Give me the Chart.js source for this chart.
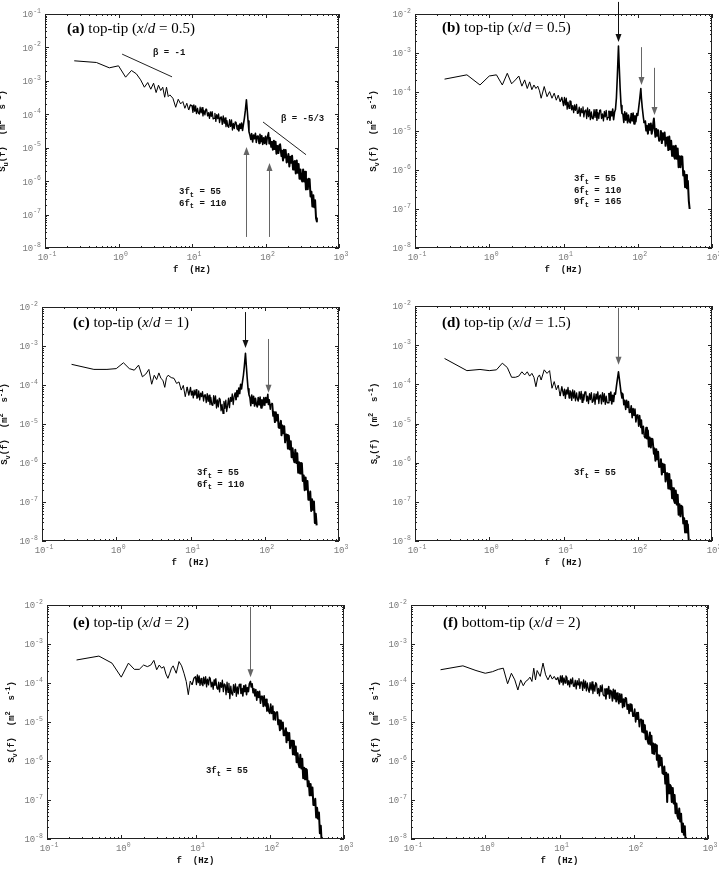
<!DOCTYPE html>
<html>
<head>
<meta charset="utf-8">
<script src="https://cdn.jsdelivr.net/npm/chart.js@4.4.1/dist/chart.umd.min.js"></script>
<style>
  html, body { margin: 0; padding: 0; background: #fff; }
  #wrap { position: relative; width: 719px; height: 883px; overflow: hidden; }
  #wrap canvas { position: absolute; left: 0; top: 0; }
</style>
</head>
<body>
<div id="wrap"></div>
<script>
// ==== Data ====
// frequency bins (Hz), shared by all six spectra
const freq = [
  0.25, 0.5, 0.75, 1, 1.25, 1.5, 1.75, 2, 2.25, 2.5,
  2.75, 3, 3.25, 3.5, 3.75, 4, 4.25, 4.5, 4.75, 5,
  5.5, 6, 6.5, 7, 7.5, 8, 8.5, 9, 9.5,
  10, 10.3, 10.6, 10.9, 11.2, 11.5, 11.9, 12.2,
  12.6, 12.9, 13.3, 13.7, 14.1, 14.5, 15.0, 15.4,
  15.8, 16.3, 16.8, 17.3, 17.8, 18.3, 18.8, 19.4,
  20.0, 20.5, 21.1, 21.7, 22.4, 23.0, 23.7, 24.4,
  25.1, 25.8, 26.6, 27.4, 28.2, 29.0, 29.9, 30.7,
  31.6, 32.5, 33.5, 34.5, 35.5, 36.5, 37.6, 38.7,
  39.8, 41.0, 42.2, 43.4, 44.7, 46.0, 47.3, 48.7,
  50.1, 51.6, 53.1, 55, 56.2, 57.9, 59.6, 61.3,
  63.1, 64.9, 66.8, 68.8, 70.8, 72.9, 75.0, 77.1,
  79.4, 81.7, 84.1, 86.6, 89.1, 91.7, 94.4, 97.2,
  100, 103, 106, 110, 112, 115, 119, 122,
  126, 130, 133, 137, 141, 145, 150, 154,
  158, 165, 168, 173, 178, 183, 188, 194,
  200, 205, 211, 217, 224, 230, 237, 244,
  251, 258, 266, 274, 282, 290, 299, 307,
  316, 325, 335, 345, 355, 365, 376, 387,
  398, 410, 422, 434, 447, 460, 473, 487,
  500
];

// log10 of S(f) (m^2 s^-1)
const specA = [
  -2.40, -2.45, -2.61, -2.55, -2.89, -2.69, -2.79, -2.97, -3.19, -3.05,
  -3.25, -3.07, -3.35, -3.13, -3.29, -3.19, -3.49, -3.19, -3.47, -3.42,
  -3.52, -3.79, -3.55, -3.69, -3.62, -3.82, -3.67, -3.87, -3.72,
  -3.75, -3.94, -3.72, -3.91, -3.75, -3.98, -3.82, -3.96,
  -3.99, -3.79, -3.96, -3.80, -4.05, -3.88, -4.02, -3.85,
  -3.85, -4.05, -3.95, -4.12, -3.93, -4.06, -3.92, -4.14,
  -4.12, -3.97, -4.21, -4.01, -4.13, -3.99, -4.25, -4.09,
  -4.08, -4.30, -4.05, -4.27, -4.11, -4.37, -4.19, -4.36,
  -4.39, -4.16, -4.36, -4.17, -4.47, -4.27, -4.43, -4.23,
  -4.24, -4.45, -4.33, -4.50, -4.29, -4.42, -4.26, -4.48,
  -4.30, -4.12, -3.90, -3.57, -3.82, -4.20, -4.52, -4.62,
  -4.75, -4.58, -4.83, -4.62, -4.73, -4.57, -4.84, -4.66,
  -4.65, -4.87, -4.60, -4.82, -4.64, -4.90, -4.70, -4.87,
  -4.66, -4.90, -4.68, -4.55, -4.88, -4.70, -4.98, -4.80,
  -5.06, -4.79, -5.04, -4.82, -5.18, -4.95, -5.16, -4.93,
  -4.90, -5.25, -5.09, -5.38, -5.06, -5.29, -5.07, -5.44,
  -5.40, -5.19, -5.56, -5.27, -5.45, -5.24, -5.65, -5.42,
  -5.40, -5.77, -5.38, -5.75, -5.49, -5.93, -5.65, -5.93,
  -6.01, -5.65, -6.01, -5.72, -6.25, -5.94, -6.24, -5.93,
  -5.94, -6.46, -6.32, -6.76, -6.42, -6.78, -6.57, -7.11,
  -7.21
];
const specB = [
  -3.67, -3.56, -3.82, -3.59, -3.56, -3.82, -3.52, -3.79, -3.69, -3.59,
  -3.85, -3.69, -3.91, -3.74, -3.94, -3.82, -3.91, -3.85, -3.97, -4.16,
  -3.86, -4.12, -3.99, -4.16, -4.03, -4.21, -4.08, -4.25, -4.14,
  -4.35, -4.14, -4.33, -4.16, -4.44, -4.26, -4.42, -4.23,
  -4.24, -4.46, -4.35, -4.53, -4.33, -4.47, -4.32, -4.55,
  -4.54, -4.39, -4.62, -4.42, -4.53, -4.38, -4.64, -4.48,
  -4.46, -4.68, -4.41, -4.63, -4.45, -4.71, -4.51, -4.68,
  -4.69, -4.45, -4.65, -4.45, -4.73, -4.53, -4.68, -4.47,
  -4.46, -4.68, -4.56, -4.74, -4.50, -4.64, -4.47, -4.71,
  -4.65, -4.48, -4.72, -4.50, -4.61, -4.44, -4.71, -4.52,
  -4.45, -4.15, -3.60, -2.82, -3.30, -3.90, -4.35, -4.55,
  -4.57, -4.78, -4.51, -4.72, -4.54, -4.79, -4.59, -4.75,
  -4.79, -4.55, -4.74, -4.54, -4.82, -4.61, -4.76, -4.55,
  -4.60, -4.40, -4.20, -3.91, -4.15, -4.40, -4.65, -4.80,
  -4.75, -4.99, -4.87, -5.07, -4.82, -4.97, -4.81, -5.07,
  -4.95, -4.68, -4.90, -5.15, -4.95, -5.12, -4.98, -5.25,
  -5.19, -5.00, -5.31, -5.06, -5.22, -5.04, -5.38, -5.18,
  -5.16, -5.49, -5.14, -5.47, -5.25, -5.64, -5.39, -5.64,
  -5.71, -5.38, -5.71, -5.45, -5.93, -5.65, -5.93, -5.65,
  -5.66, -6.14, -6.03, -6.44, -6.13, -6.47, -6.28, -6.79,
  -7.00
];
const specC = [
  -3.47, -3.60, -3.60, -3.58, -3.43, -3.58, -3.62, -3.49, -3.79, -3.72,
  -3.60, -3.98, -3.75, -3.86, -3.69, -3.83, -3.88, -4.06, -3.81, -3.75,
  -3.81, -3.83, -3.96, -3.92, -4.13, -4.01, -4.30, -4.05, -4.26,
  -4.06, -4.26, -4.16, -4.33, -4.13, -4.26, -4.12, -4.34,
  -4.31, -4.15, -4.38, -4.21, -4.30, -4.17, -4.41, -4.26,
  -4.25, -4.45, -4.22, -4.42, -4.26, -4.50, -4.32, -4.51,
  -4.52, -4.27, -4.48, -4.28, -4.59, -4.38, -4.56, -4.34,
  -4.37, -4.66, -4.50, -4.73, -4.42, -4.60, -4.39, -4.68,
  -4.53, -4.34, -4.58, -4.32, -4.42, -4.23, -4.50, -4.29,
  -4.20, -4.38, -4.14, -4.30, -4.08, -4.22, -3.98, -4.10,
  -3.92, -3.75, -3.52, -3.19, -3.45, -3.80, -4.10, -4.25,
  -4.32, -4.53, -4.26, -4.47, -4.29, -4.54, -4.34, -4.50,
  -4.56, -4.32, -4.51, -4.31, -4.59, -4.38, -4.53, -4.32,
  -4.52, -4.32, -4.45, -4.24, -4.50, -4.38, -4.62, -4.48,
  -4.48, -4.79, -4.69, -4.95, -4.70, -4.91, -4.76, -5.09,
  -5.10, -4.92, -5.29, -5.04, -5.24, -5.06, -5.47, -5.27,
  -5.28, -5.63, -5.30, -5.65, -5.44, -5.85, -5.62, -5.89,
  -5.98, -5.66, -6.00, -5.75, -6.25, -5.98, -6.27, -6.00,
  -6.01, -6.46, -6.32, -6.70, -6.37, -6.68, -6.46, -6.94,
  -6.94, -6.73, -7.23, -6.93, -7.20, -6.99, -7.54, -7.30,
  -7.60
];
const specD = [
  -3.34, -3.65, -3.62, -3.65, -3.63, -3.46, -3.57, -3.82, -3.82, -3.79,
  -3.68, -3.76, -3.68, -3.79, -3.72, -3.82, -4.06, -3.82, -3.76, -3.89,
  -3.63, -3.72, -3.65, -4.10, -3.93, -4.14, -4.02, -4.30, -4.06,
  -4.29, -4.12, -4.36, -4.14, -4.25, -4.08, -4.35, -4.16,
  -4.20, -4.41, -4.14, -4.35, -4.17, -4.42, -4.22, -4.38,
  -4.43, -4.19, -4.38, -4.18, -4.46, -4.25, -4.40, -4.19,
  -4.19, -4.43, -4.30, -4.49, -4.24, -4.39, -4.21, -4.46,
  -4.43, -4.24, -4.51, -4.25, -4.38, -4.19, -4.49, -4.29,
  -4.27, -4.50, -4.21, -4.44, -4.24, -4.51, -4.30, -4.47,
  -4.47, -4.22, -4.41, -4.20, -4.50, -4.28, -4.44, -4.22,
  -4.25, -4.05, -3.88, -3.68, -3.82, -4.02, -4.22, -4.35,
  -4.25, -4.52, -4.41, -4.64, -4.41, -4.59, -4.44, -4.72,
  -4.71, -4.55, -4.85, -4.62, -4.79, -4.63, -4.96, -4.79,
  -4.78, -5.07, -4.80, -5.10, -4.91, -5.26, -5.07, -5.30,
  -5.36, -5.11, -5.38, -5.18, -5.59, -5.36, -5.61, -5.39,
  -5.40, -5.77, -5.64, -5.95, -5.66, -5.91, -5.72, -6.11,
  -6.10, -5.91, -6.30, -6.03, -6.24, -6.05, -6.48, -6.27,
  -6.27, -6.66, -6.29, -6.68, -6.45, -6.91, -6.65, -6.95,
  -7.03, -6.71, -7.07, -6.82, -7.33, -7.06, -7.37, -7.10,
  -7.13, -7.55, -7.42, -7.78, -7.49, -7.78, -7.58, -8.03,
  -8.10
];
const specE = [
  -3.41, -3.31, -3.49, -3.85, -3.49, -3.65, -3.65, -3.54, -3.58, -3.54,
  -3.42, -3.66, -3.54, -3.62, -3.58, -3.77, -3.88, -3.75, -3.62, -3.56,
  -3.75, -3.45, -3.56, -3.75, -3.96, -4.30, -3.95, -4.05, -3.88,
  -3.84, -4.04, -3.79, -3.99, -3.82, -4.06, -3.88, -4.03,
  -4.07, -3.85, -4.02, -3.84, -4.10, -3.90, -4.05, -3.85,
  -3.88, -4.10, -3.98, -4.16, -3.92, -4.06, -3.89, -4.13,
  -4.16, -3.98, -4.23, -3.99, -4.11, -3.93, -4.22, -4.02,
  -4.05, -4.30, -3.98, -4.24, -4.01, -4.40, -4.08, -4.27,
  -4.31, -4.04, -4.24, -4.02, -4.34, -4.10, -4.28, -4.04,
  -4.03, -4.27, -4.14, -4.33, -4.07, -4.22, -4.05, -4.30,
  -4.12, -4.22, -4.02, -3.96, -4.10, -4.02, -4.25, -4.15,
  -4.33, -4.17, -4.44, -4.22, -4.37, -4.21, -4.52, -4.34,
  -4.34, -4.60, -4.33, -4.59, -4.42, -4.72, -4.53, -4.73,
  -4.78, -4.54, -4.78, -4.59, -4.94, -4.74, -4.95, -4.74,
  -4.75, -5.06, -4.95, -5.21, -4.96, -5.17, -5.01, -5.34,
  -5.34, -5.16, -5.52, -5.27, -5.46, -5.28, -5.67, -5.48,
  -5.48, -5.83, -5.49, -5.84, -5.63, -6.03, -5.80, -6.07,
  -6.16, -5.84, -6.19, -5.94, -6.44, -6.17, -6.47, -6.20,
  -6.23, -6.65, -6.52, -6.88, -6.59, -6.88, -6.68, -7.13,
  -7.13, -6.97, -7.45, -7.20, -7.48, -7.32, -7.85, -7.66,
  -8.10
];
const specF = [
  -3.66, -3.56, -3.68, -3.75, -3.71, -3.65, -3.62, -4.02, -3.75, -3.92,
  -4.18, -3.92, -4.07, -3.96, -3.92, -3.85, -3.96, -3.62, -3.92, -3.68,
  -3.83, -3.49, -3.79, -3.92, -3.79, -3.90, -3.83, -3.92, -3.86,
  -4.03, -3.82, -3.98, -3.81, -4.05, -3.87, -4.00, -3.82,
  -3.86, -4.05, -3.94, -4.10, -3.90, -4.02, -3.87, -4.08,
  -4.09, -3.93, -4.15, -3.94, -4.05, -3.89, -4.14, -3.97,
  -3.98, -4.19, -3.92, -4.13, -3.95, -4.20, -4.00, -4.16,
  -4.24, -3.99, -4.18, -3.97, -4.27, -4.05, -4.21, -3.99,
  -4.03, -4.27, -4.14, -4.33, -4.07, -4.22, -4.05, -4.30,
  -4.33, -4.14, -4.41, -4.15, -4.28, -4.09, -4.39, -4.19,
  -4.22, -4.46, -4.16, -4.40, -4.19, -4.48, -4.26, -4.43,
  -4.53, -4.28, -4.49, -4.29, -4.63, -4.41, -4.60, -4.38,
  -4.39, -4.67, -4.55, -4.78, -4.54, -4.72, -4.56, -4.85,
  -4.85, -4.67, -5.00, -4.76, -4.93, -4.76, -5.12, -4.93,
  -4.94, -5.25, -4.96, -5.27, -5.08, -5.44, -5.24, -5.48,
  -5.56, -5.27, -5.58, -5.35, -5.80, -5.55, -5.82, -5.57,
  -5.60, -5.97, -5.84, -6.15, -5.86, -6.11, -5.92, -6.31,
  -6.33, -6.14, -6.58, -6.30, -7.05, -6.34, -6.83, -6.61,
  -6.65, -7.05, -6.69, -7.09, -6.87, -7.34, -7.09, -7.40,
  -7.48, -7.22, -7.55, -7.35, -7.82, -7.60, -7.89, -7.67,
  -8.10
];

// harmonic labels (multiple of f_t, Hz)
const harmA = [['3', '55'], ['6', '110']];
const harmB = [['3', '55'], ['6', '110'], ['9', '165']];
const harmC = [['3', '55'], ['6', '110']];
const harmD = [['3', '55']];
const harmE = [['3', '55']];

// ==== Styles ====
const MONO = "'Liberation Mono', 'DejaVu Sans Mono', monospace";
const SERIF = "'Liberation Serif', 'DejaVu Serif', serif";
const INK = '#111';
const GRAY = '#666';
const TICK_GRAY = '#7a7a7a';

// heavier stroke where the spectrum becomes a dense noise band
function bandWidth(ctx) {
  const f = ctx.p0.parsed.x;
  if (f < 9) return 1;
  if (f < 40) return 1.3;
  if (f < 120) return 1.6;
  return 2;
}

// ==== Panels (layout in page pixels, annotations in data units) ====
const panels = [
  { spec: specA, sub: 'u', yMin: -8, yMax: -1, box: [45, 14, 339, 248], yTitleX: 3,
    tag: '(a)', where: 'top-tip', xd: '0.5', tagAt: [67, 33],
    harm: harmA, harmAt: [6.65, -6.32],
    arrows: [{ f: 55, from: -7.67, to: -4.98, c: GRAY }, { f: 110, from: -7.67, to: -5.46, c: GRAY }],
    slopes: [{ f1: 1.12, y1: -2.20, f2: 5.35, y2: -2.88, text: '\u03b2 = -1', tf: 2.94, ty: -2.17 },
             { f1: 92.5, y1: -4.23, f2: 356, y2: -5.21, text: '\u03b2 = -5/3', tf: 162.5, ty: -4.14 }] },
  { spec: specB, sub: 'v', yMin: -8, yMax: -2, box: [415, 14, 712, 248], yTitleX: 374,
    tag: '(b)', where: 'top-tip', xd: '0.5', tagAt: [442, 32],
    harm: harmB, harmAt: [13.8, -6.23],
    arrows: [{ f: 55, from: -1.69, to: -2.72, c: INK }, { f: 110, from: -2.85, to: -3.82, c: GRAY },
             { f: 165, from: -3.38, to: -4.59, c: GRAY }] },
  { spec: specC, sub: 'v', yMin: -8, yMax: -2, box: [42, 307, 339, 541], yTitleX: 5,
    tag: '(c)', where: 'top-tip', xd: '1', tagAt: [73, 327],
    harm: harmC, harmAt: [12.2, -6.26],
    arrows: [{ f: 55, from: -2.13, to: -3.05, c: INK }, { f: 110, from: -2.82, to: -4.20, c: GRAY }] },
  { spec: specD, sub: 'v', yMin: -8, yMax: -2, box: [415, 306, 712, 541], yTitleX: 375,
    tag: '(d)', where: 'top-tip', xd: '1.5', tagAt: [442, 327],
    harm: harmD, harmAt: [13.8, -6.26],
    arrows: [{ f: 55, from: -2.05, to: -3.50, c: GRAY }] },
  { spec: specE, sub: 'v', yMin: -8, yMax: -2, box: [47, 605, 344, 839], yTitleX: 12,
    tag: '(e)', where: 'top-tip', xd: '2', tagAt: [73, 627],
    harm: harmE, harmAt: [13.8, -6.26],
    arrows: [{ f: 55, from: -2.05, to: -3.85, c: GRAY }] },
  { spec: specF, sub: 'v', yMin: -8, yMax: -2, box: [411, 605, 708, 839], yTitleX: 376,
    tag: '(f)', where: 'bottom-tip', xd: '2', tagAt: [443, 627],
    harm: [], harmAt: null, arrows: [] }
];

// ---- rich text helpers ----
function drawRich(ctx, x, y, segs, align) {
  let w = 0;
  for (const s of segs) { ctx.font = s.font; w += ctx.measureText(s.t).width; }
  let cx = align === 'center' ? x - w / 2 : (align === 'right' ? x - w : x);
  for (const s of segs) {
    ctx.font = s.font;
    ctx.fillText(s.t, cx, y + (s.dy || 0));
    cx += ctx.measureText(s.t).width;
  }
}
const B9 = `bold 9px ${MONO}`;
const B7 = `bold 7px ${MONO}`;

function makeFrame(p) {
  return {
    id: 'frame',
    afterDatasetsDraw(chart) {
      const ctx = chart.ctx;
      const xs = chart.scales.x, ys = chart.scales.y;
      const { left, right, top, bottom } = chart.chartArea;
      const X = f => xs.getPixelForValue(f);
      const Y = l => ys.getPixelForValue(Math.pow(10, l));
      ctx.save();

      // box
      ctx.strokeStyle = '#222';
      ctx.lineWidth = 1;
      ctx.strokeRect(left + 0.5, top + 0.5, right - left - 1, bottom - top - 1);

      // inward ticks, major + minor
      ctx.beginPath();
      for (let d = -1; d <= 3; d++) {
        for (let m = 1; m <= 9; m++) {
          const v = m * Math.pow(10, d);
          if (v > 1000.0001) break;
          const px = Math.round(X(v)) + 0.5, len = m === 1 ? 4 : 2;
          ctx.moveTo(px, bottom); ctx.lineTo(px, bottom - len);
          ctx.moveTo(px, top); ctx.lineTo(px, top + len);
        }
      }
      for (let d = p.yMin; d <= p.yMax; d++) {
        for (let m = 1; m <= 9; m++) {
          const v = m * Math.pow(10, d);
          if (v > Math.pow(10, p.yMax) * 1.0001) break;
          const py = Math.round(ys.getPixelForValue(v)) + 0.5, len = m === 1 ? 4 : 2;
          ctx.moveTo(left, py); ctx.lineTo(left + len, py);
          ctx.moveTo(right, py); ctx.lineTo(right - len, py);
        }
      }
      ctx.stroke();

      // tick labels 10^n
      ctx.fillStyle = TICK_GRAY;
      ctx.textBaseline = 'middle';
      const tl = n => [{ t: '10', font: `9px ${MONO}` }, { t: String(n), font: `6.5px ${MONO}`, dy: -4 }];
      for (let d = -1; d <= 3; d++) drawRich(ctx, X(Math.pow(10, d)) + 2, bottom + 10, tl(d), 'center');
      for (let d = p.yMin; d <= p.yMax; d++) drawRich(ctx, left - 4, Y(d) + 1, tl(d), 'right');

      // axis titles
      ctx.fillStyle = INK;
      drawRich(ctx, (left + right) / 2, bottom + 22, [{ t: 'f  (Hz)', font: B9 }], 'center');
      ctx.save();
      ctx.translate(p.yTitleX, (top + bottom) / 2);
      ctx.rotate(-Math.PI / 2);
      drawRich(ctx, 0, 0, [
        { t: 'S', font: B9 }, { t: p.sub, font: B7, dy: 3 }, { t: '(f)  (m', font: B9 },
        { t: '2', font: B7, dy: -4 }, { t: '  s', font: B9 }, { t: '-1', font: B7, dy: -4 },
        { t: ')', font: B9 }
      ], 'center');
      ctx.restore();

      // panel title
      ctx.fillStyle = '#000';
      ctx.textBaseline = 'alphabetic';
      drawRich(ctx, p.tagAt[0], p.tagAt[1], [
        { t: p.tag, font: `bold 15px ${SERIF}` }, { t: ' ' + p.where + ' (', font: `15px ${SERIF}` },
        { t: 'x', font: `italic 15px ${SERIF}` }, { t: '/', font: `15px ${SERIF}` },
        { t: 'd', font: `italic 15px ${SERIF}` }, { t: ' = ' + p.xd + ')', font: `15px ${SERIF}` }
      ], 'left');

      // harmonic labels
      ctx.textBaseline = 'middle';
      ctx.fillStyle = INK;
      if (p.harmAt) {
        p.harm.forEach((h, i) => {
          drawRich(ctx, X(p.harmAt[0]), Y(p.harmAt[1]) + i * 11.5, [
            { t: h[0] + 'f', font: B9 }, { t: 't', font: B7, dy: 3 }, { t: ' = ' + h[1], font: B9 }
          ], 'left');
        });
      }

      // slope guides
      (p.slopes || []).forEach(s => {
        ctx.strokeStyle = '#222';
        ctx.lineWidth = 1;
        ctx.beginPath();
        ctx.moveTo(X(s.f1), Y(s.y1));
        ctx.lineTo(X(s.f2), Y(s.y2));
        ctx.stroke();
        drawRich(ctx, X(s.tf), Y(s.ty), [{ t: s.text, font: B9 }], 'left');
      });

      // arrows
      p.arrows.forEach(a => {
        const x = Math.round(X(a.f)) + 0.5, y0 = Y(a.from), y1 = Y(a.to);
        const dir = y1 > y0 ? 1 : -1;
        ctx.strokeStyle = a.c; ctx.fillStyle = a.c; ctx.lineWidth = 1;
        ctx.beginPath();
        ctx.moveTo(x, y0); ctx.lineTo(x, y1 - dir * 6);
        ctx.stroke();
        ctx.beginPath();
        ctx.moveTo(x, y1);
        ctx.lineTo(x - 3, y1 - dir * 8);
        ctx.lineTo(x + 3, y1 - dir * 8);
        ctx.closePath();
        ctx.fill();
      });

      ctx.restore();
    }
  };
}

// ---- build charts ----
const wrap = document.getElementById('wrap');
panels.forEach(p => {
  if (p.spec.length !== freq.length) console.error('length mismatch', p.tag, p.spec.length, freq.length);
  const cv = document.createElement('canvas');
  cv.width = 719; cv.height = 883;
  wrap.appendChild(cv);
  const [L, T, R, Bt] = p.box;
  new Chart(cv.getContext('2d'), {
    type: 'line',
    data: {
      datasets: [{
        data: freq.map((f, i) => ({ x: f, y: Math.pow(10, p.spec[i]) })),
        borderColor: '#000', borderWidth: 1, pointRadius: 0, tension: 0, fill: false,
        borderJoinStyle: 'round',
        segment: { borderWidth: bandWidth }
      }]
    },
    options: {
      responsive: false, animation: false, devicePixelRatio: 1, events: [],
      layout: { padding: { left: L, top: T, right: 719 - R, bottom: 883 - Bt } },
      plugins: { legend: { display: false }, tooltip: { enabled: false } },
      scales: {
        x: { type: 'logarithmic', min: 0.1, max: 1000, display: false },
        y: { type: 'logarithmic', min: Math.pow(10, p.yMin), max: Math.pow(10, p.yMax), display: false }
      }
    },
    plugins: [makeFrame(p)]
  });
});
</script>
</body>
</html>
